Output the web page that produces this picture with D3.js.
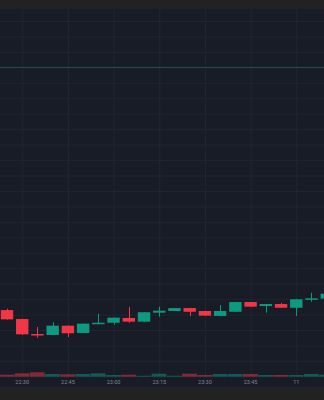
<!DOCTYPE html>
<html>
<head>
<meta charset="utf-8">
<script src="https://cdn.jsdelivr.net/npm/d3@7"></script>
<style>
  html, body { margin: 0; padding: 0; background: #222222; }
  svg { display: block; }
</style>
</head>
<body>
<script>
// 5 minute candles, 22:25 on the 10th to 00:10 on the 11th
const times = ["2024-01-10 22:25", "2024-01-10 22:30", "2024-01-10 22:35", "2024-01-10 22:40",
  "2024-01-10 22:45", "2024-01-10 22:50", "2024-01-10 22:55", "2024-01-10 23:00",
  "2024-01-10 23:05", "2024-01-10 23:10", "2024-01-10 23:15", "2024-01-10 23:20",
  "2024-01-10 23:25", "2024-01-10 23:30", "2024-01-10 23:35", "2024-01-10 23:40",
  "2024-01-10 23:45", "2024-01-10 23:50", "2024-01-10 23:55", "2024-01-11 00:00",
  "2024-01-11 00:05", "2024-01-11 00:10"]
const opens  = [3032.9, 3027.1, 3017.4, 3016.8, 3022.8, 3018.1, 3023.9, 3024.7, 3027.8, 3025.4, 3031.2,
  3032.3, 3034.2, 3032.3, 3029.1, 3031.8, 3038.1, 3035.5, 3036.8, 3034.4, 3039.6, 3040.3]
const highs  = [3033.8, 3027.3, 3021.9, 3025.0, 3022.9, 3024.2, 3030.4, 3028.1, 3034.9, 3031.6, 3035.1,
  3034.3, 3034.3, 3032.4, 3036.0, 3038.2, 3038.2, 3036.9, 3037.5, 3040.0, 3044.1, 3044.1]
const lows   = [3026.8, 3016.8, 3015.0, 3016.7, 3015.5, 3018.0, 3023.8, 3023.4, 3024.7, 3025.3, 3028.6,
  3032.2, 3029.1, 3029.2, 3029.0, 3031.7, 3035.0, 3031.2, 3034.3, 3029.1, 3038.3, 3039.2]
const closes = [3026.9, 3017.2, 3016.6, 3022.8, 3017.9, 3024.1, 3024.7, 3028.0, 3025.4, 3031.5, 3032.5,
  3034.2, 3031.8, 3029.3, 3032.3, 3038.1, 3035.1, 3036.8, 3034.4, 3039.9, 3040.5, 3043.5]
const volumes = [200, 340, 440, 270, 240, 270, 340, 170, 200, 100, 300,
  100, 300, 170, 270, 270, 270, 170, 170, 170, 270, 200]

const tickTimes  = ["2024-01-10 22:30", "2024-01-10 22:45", "2024-01-10 23:00", "2024-01-10 23:15",
  "2024-01-10 23:30", "2024-01-10 23:45", "2024-01-11 00:00"]
const tickLabels = ["22:30", "22:45", "23:00", "23:15", "23:30", "23:45", "11"]
const priceLine = 3190

const W = 324, H = 400
const chartTop = 9, chartBottom = 387
const parse = d3.timeParse("%Y-%m-%d %H:%M")

const candles = times.map((t, i) => ({
  t: parse(t), o: opens[i], h: highs[i], l: lows[i], c: closes[i], v: volumes[i]
}))

const x = d3.scaleTime()
  .domain([parse(times[0]), parse(times[times.length - 1])])
  .range([7, 7 + 105 * 3.045])

const y = d3.scaleLinear()
  .domain([2990, 3220])
  .range([21 + 230 * 1.545, 21])

const yVol = d3.scaleLinear()
  .domain([0, 4000])
  .range([376.7, 336.7])

const step = x(parse(times[1])) - x(parse(times[0]))
const bodyW = 12.4

const svg = d3.select("body").append("svg")
  .attr("width", W)
  .attr("height", H)
  .attr("xmlns", "http://www.w3.org/2000/svg")

svg.append("rect")
  .attr("x", 0).attr("y", 0).attr("width", W).attr("height", H)
  .style("fill", "#222222")

svg.append("rect")
  .attr("x", 0).attr("y", chartTop).attr("width", W).attr("height", chartBottom - chartTop)
  .style("fill", "#181c27")

// horizontal grid
const gy = svg.append("g")
  .attr("transform", `translate(${W},0)`)
  .call(d3.axisLeft(y).tickValues(d3.range(2990, 3221, 10)).tickSize(W).tickFormat(""))
gy.select(".domain").remove()
gy.selectAll("line").attr("stroke", "#212533").attr("stroke-width", 1)

// vertical grid
const gx = svg.append("g")
  .attr("transform", `translate(0,${chartTop})`)
  .call(d3.axisBottom(x).tickValues(tickTimes.map(parse)).tickSize(377 - chartTop).tickFormat(""))
gx.select(".domain").remove()
gx.selectAll("line").attr("stroke", "#212533").attr("stroke-width", 1)

svg.append("line")
  .attr("x1", 0).attr("x2", W)
  .attr("y1", y(priceLine)).attr("y2", y(priceLine))
  .attr("stroke", "rgba(34,171,148,0.35)")
  .attr("stroke-width", 1)

// volume
svg.append("g").selectAll("rect")
  .data(candles)
  .join("rect")
  .attr("x", d => x(d.t) - step / 2)
  .attr("y", d => yVol(d.v))
  .attr("width", step - 0.4)
  .attr("height", d => yVol(0) - yVol(d.v))
  .style("fill", d => d.c >= d.o ? "rgba(8,153,129,0.5)" : "rgba(242,54,69,0.5)")

// candles
const up = "#0d9a80", down = "#f23645"
const cg = svg.append("g").selectAll("g")
  .data(candles)
  .join("g")

cg.append("line")
  .attr("x1", d => Math.round(x(d.t)) + 0.5)
  .attr("x2", d => Math.round(x(d.t)) + 0.5)
  .attr("y1", d => y(d.h))
  .attr("y2", d => y(d.l))
  .attr("stroke", d => d.c >= d.o ? up : down)
  .attr("stroke-width", 1)

cg.append("rect")
  .attr("x", d => x(d.t) - bodyW / 2)
  .attr("y", d => y(Math.max(d.o, d.c)))
  .attr("width", bodyW)
  .attr("height", d => Math.max(1.5, Math.abs(y(d.o) - y(d.c))))
  .style("fill", d => d.c >= d.o ? up : down)

// time labels
svg.append("g")
  .selectAll("text")
  .data(tickTimes)
  .join("text")
  .attr("x", d => x(parse(d)))
  .attr("y", 384)
  .attr("text-anchor", "middle")
  .attr("font-family", "Roboto")
  .attr("font-size", 5.5)
  .style("fill", "#80848f")
  .text((d, i) => tickLabels[i])
</script>
</body>
</html>
